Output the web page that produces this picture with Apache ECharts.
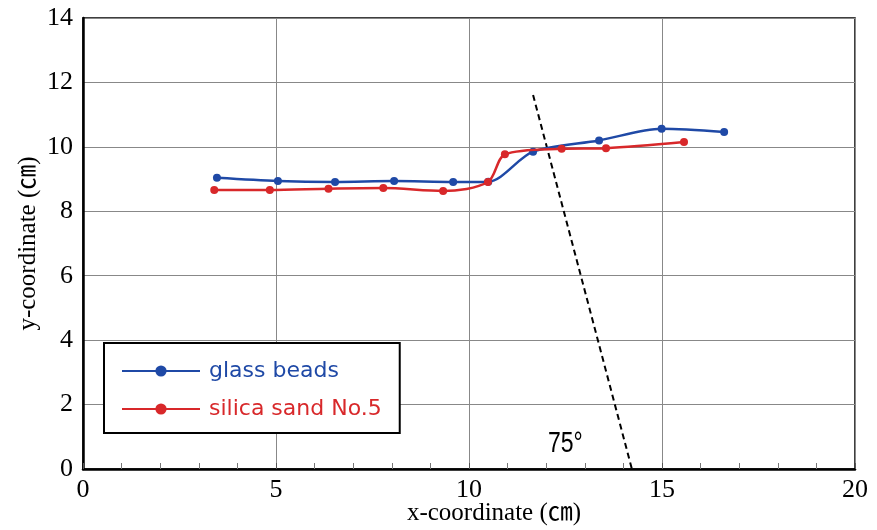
<!DOCTYPE html>
<html>
<head>
<meta charset="utf-8">
<script src="https://cdn.jsdelivr.net/npm/echarts@6/dist/echarts.min.js"></script>
<style>
  html, body { margin: 0; padding: 0; background: #fff; }
  #chart { width: 877px; height: 530px; }
</style>
</head>
<body>
<div id="chart"></div>
<script>
// measured points (x, y in cm)
var glassX = [3.47, 5.05, 6.53, 8.06, 9.59, 10.5, 11.66, 13.37, 14.99, 16.61]
var glassY = [9.04, 8.94, 8.91, 8.94, 8.91, 8.92, 9.85, 10.2, 10.56, 10.46]
var sandX = [3.4, 4.84, 6.36, 7.78, 9.33, 10.49, 10.93, 12.4, 13.55, 15.57]
var sandY = [8.66, 8.66, 8.7, 8.72, 8.63, 8.91, 9.77, 9.94, 9.96, 10.15]
// 75 degree reference line
var slopeX = [11.66, 14.22]
var slopeY = [11.61, 0]

var xTicks = [0, 5, 10, 15, 20]
var yTicks = [0, 2, 4, 6, 8, 10, 12, 14]

function pairs(xs, ys) {
  return xs.map(function(x, i) { return [x, ys[i]] })
}

var blue = '#1f49a6'
var red = '#d8282a'
var serif = '"Liberation Serif", "Noto Sans CJK JP", serif'
var sans = '"DejaVu Sans", "Noto Sans", sans-serif'

var chart = echarts.init(document.getElementById('chart'))
chart.setOption({
  animation: false,
  grid: {
    left: 83,
    right: 22,
    top: 18,
    bottom: 61,
    outerBoundsMode: 'none',
    show: true,
    borderColor: '#000',
    borderWidth: 1.5
  },
  legend: {
    left: 104,
    top: 343,
    orient: 'vertical',
    backgroundColor: '#fff',
    borderColor: '#000',
    borderWidth: 2,
    borderRadius: 0,
    padding: [17, 18, 13, 17],
    itemWidth: 78,
    itemHeight: 14,
    itemGap: 16,
    textStyle: {
      fontFamily: sans,
      fontSize: 22,
      lineHeight: 22,
      padding: [0, 0, 0, 4]
    },
    data: [
      { name: 'glass beads', textStyle: { color: blue } },
      { name: 'silica sand No.5', textStyle: { color: red } }
    ]
  },
  xAxis: {
    type: 'value',
    min: 0,
    max: 20,
    interval: 5,
    name: 'x-coordinate (㎝)',
    nameLocation: 'middle',
    nameGap: 32,
    nameMoveOverlap: false,
    nameTextStyle: { fontFamily: serif, fontSize: 25, color: '#000', padding: [0, 0, 0, 50] },
    axisLine: { show: true, lineStyle: { color: '#000', width: 2.5 } },
    axisTick: { show: true, inside: true, length: 6, lineStyle: { color: '#555' } },
    minorTick: { show: true, splitNumber: 5, length: 6, lineStyle: { color: '#777' } },
    axisLabel: {
      fontFamily: serif, fontSize: 26, color: '#000', margin: 8,
      formatter: function(v) { return xTicks.indexOf(v) >= 0 ? v : '' }
    },
    splitLine: { show: true, lineStyle: { color: '#888', width: 1 } }
  },
  yAxis: {
    type: 'value',
    min: 0,
    max: 14,
    interval: 2,
    name: 'y-coordinate (㎝)',
    nameLocation: 'middle',
    nameGap: 42,
    nameMoveOverlap: false,
    nameTextStyle: { fontFamily: serif, fontSize: 25, color: '#000' },
    axisLine: { show: true, lineStyle: { color: '#000', width: 2.5 } },
    axisTick: { show: false },
    axisLabel: {
      fontFamily: serif, fontSize: 26, color: '#000', margin: 10,
      formatter: function(v) { return yTicks.indexOf(v) >= 0 ? v : '' }
    },
    splitLine: { show: true, lineStyle: { color: '#888', width: 1 } }
  },
  series: [
    {
      name: 'slope',
      type: 'line',
      data: pairs(slopeX, slopeY),
      symbol: 'none',
      lineStyle: { color: '#000', width: 2, type: [6, 4] },
      z: 1,
      silent: true
    },
    {
      name: 'glass beads',
      type: 'line',
      data: pairs(glassX, glassY),
      smooth: 0.3,
      symbol: 'circle',
      symbolSize: 8,
      color: blue,
      lineStyle: { color: blue, width: 2.5 },
      itemStyle: { color: blue },
      z: 2
    },
    {
      name: 'silica sand No.5',
      type: 'line',
      data: pairs(sandX, sandY),
      smooth: 0.3,
      symbol: 'circle',
      symbolSize: 8,
      color: red,
      lineStyle: { color: red, width: 2.5 },
      itemStyle: { color: red },
      z: 3
    }
  ],
  graphic: [
    {
      type: 'text',
      x: 548,
      y: 444,
      scaleY: 1.3,
      style: {
        text: '75°',
        fontFamily: '"Liberation Sans", sans-serif',
        fontSize: 23,
        verticalAlign: 'middle',
        fill: '#000'
      }
    }
  ]
})
</script>
</body>
</html>
